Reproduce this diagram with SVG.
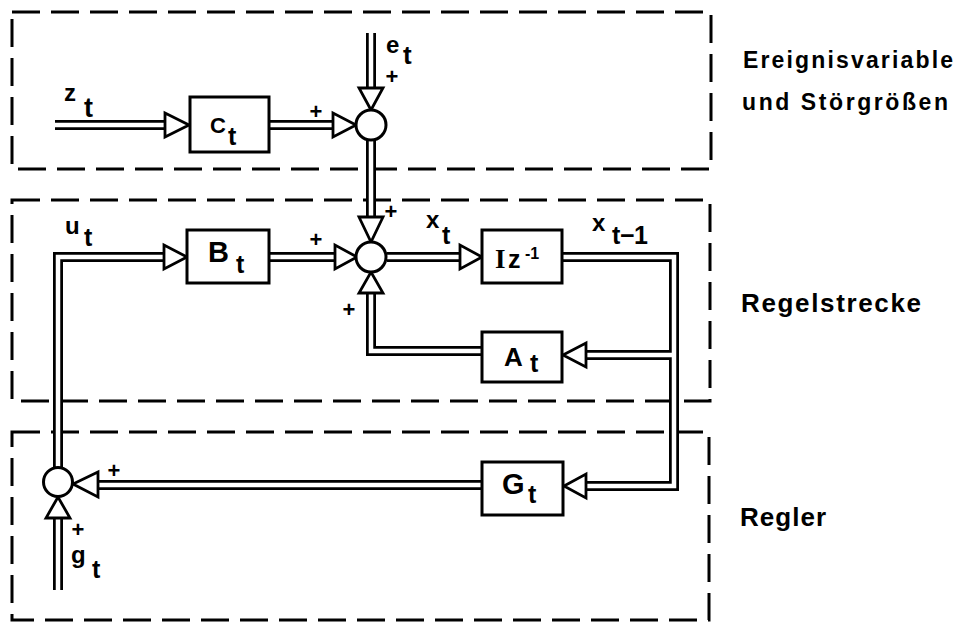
<svg xmlns="http://www.w3.org/2000/svg" width="961" height="622" viewBox="0 0 961 622">
<style>
  .zone { fill: none; stroke: #000; stroke-width: 3; stroke-dasharray: 28 11; }
  .wireB { fill: none; stroke: #000; stroke-width: 10; stroke-linejoin: miter; }
  .wireW { fill: none; stroke: #fff; stroke-width: 4.5; stroke-linejoin: miter; }
  .arr { fill: #fff; stroke: #000; stroke-width: 2.8; stroke-linejoin: miter; }
  .box { fill: #fff; stroke: #000; stroke-width: 3; }
  .sum { fill: #fff; stroke: #000; stroke-width: 3; }
  .t { font-family: "Liberation Sans", Arial, sans-serif; font-weight: bold; fill: #000; }
  .m { font-size: 24px; }
  .s { font-size: 25px; }
  .plus { font-size: 22px; text-anchor: middle; }
</style>
<rect width="961" height="622" fill="#fff"/>

<g id="zones">
  <rect class="zone" x="12" y="12" width="699" height="157"/>
  <rect class="zone" x="12" y="200" width="698" height="201"/>
  <rect class="zone" x="12" y="432" width="697" height="188"/>
</g>

<g id="connectors">
  <g class="wireB">
    <path d="M55,125 H166"/>
    <path d="M269,125 H334"/>
    <path d="M371,33 V89"/>
    <path d="M371,140 V218"/>
    <path d="M269,257 H336"/>
    <path d="M387,257 H461"/>
    <path d="M562,257 H674 V486 H586"/>
    <path d="M674,355 H586"/>
    <path d="M482,351 H371 V292"/>
    <path d="M482,485 H97"/>
    <path d="M58,468 V257 H165"/>
    <path d="M58,590 V517"/>
  </g>
  <g class="wireW">
    <path d="M55,125 H166"/>
    <path d="M269,125 H334"/>
    <path d="M371,33 V89"/>
    <path d="M371,140 V218"/>
    <path d="M269,257 H336"/>
    <path d="M387,257 H461"/>
    <path d="M562,257 H674 V486 H586"/>
    <path d="M674,355 H586"/>
    <path d="M482,351 H371 V292"/>
    <path d="M482,485 H97"/>
    <path d="M58,468 V257 H165"/>
    <path d="M58,590 V517"/>
  </g>
  <g id="arrowheads">
    <polygon class="arr" points="165,113 165,137 189,125"/>
    <polygon class="arr" points="333,113 333,137 356,125"/>
    <polygon class="arr" points="359,88 383,88 371,110"/>
    <polygon class="arr" points="359,217 383,217 371,242"/>
    <polygon class="arr" points="164,245 164,269 187,257"/>
    <polygon class="arr" points="335,245 335,269 357,257"/>
    <polygon class="arr" points="460,245 460,269 482,257"/>
    <polygon class="arr" points="586,343 586,367 563,355"/>
    <polygon class="arr" points="586,474 586,498 564,486"/>
    <polygon class="arr" points="359,293 383,293 371,272"/>
    <polygon class="arr" points="98,472 98,497 73,484"/>
    <polygon class="arr" points="46,518 70,518 58,497"/>
  </g>
</g>

<g id="sum1"><circle class="sum" cx="371" cy="125" r="15"/></g>
<g id="sum2"><circle class="sum" cx="371" cy="257" r="15"/></g>
<g id="sum3"><circle class="sum" cx="58" cy="482" r="14.5"/></g>

<g id="Ct">
  <rect class="box" x="190" y="97" width="79" height="55"/>
  <text class="t" x="210" y="133" font-size="22">C</text>
  <text class="t s" x="228" y="145">t</text>
</g>
<g id="Bt">
  <rect class="box" x="187" y="230" width="82" height="53"/>
  <text class="t" x="208" y="262" font-size="29">B</text>
  <text class="t s" x="236" y="273">t</text>
</g>
<g id="Iz">
  <rect class="box" x="482" y="230" width="80" height="53"/>
  <text x="495" y="268" font-family="Liberation Serif, serif" font-weight="bold" font-size="27">I</text>
  <text class="t" x="508" y="268" font-size="25">z</text>
  <text class="t" x="525" y="259" font-size="16">-1</text>
</g>
<g id="At">
  <rect class="box" x="482" y="332" width="80" height="50"/>
  <text class="t" x="504" y="366" font-size="26">A</text>
  <text class="t s" x="530" y="372">t</text>
</g>
<g id="Gt">
  <rect class="box" x="482" y="462" width="81" height="53"/>
  <text class="t" x="502" y="494" font-size="29">G</text>
  <text class="t s" x="528" y="503">t</text>
</g>

<g id="signals">
  <text class="t m" x="64" y="101">z</text><text class="t" x="84" y="117" font-size="27">t</text>
  <text class="t m" x="386" y="53">e</text><text class="t" x="403" y="64" font-size="26">t</text>
  <text class="t m" x="65" y="234">u</text><text class="t s" x="84" y="246">t</text>
  <text class="t m" x="426" y="228">x</text><text class="t s" x="442" y="244">t</text>
  <text class="t m" x="592" y="231">x</text><text class="t s" x="612" y="244" textLength="36" lengthAdjust="spacing">t−1</text>
  <text class="t m" x="71" y="563">g</text><text class="t s" x="92" y="578">t</text>
</g>

<g id="signs">
  <text class="t plus" x="316" y="119">+</text>
  <text class="t plus" x="392" y="84">+</text>
  <text class="t plus" x="391" y="219">+</text>
  <text class="t plus" x="316" y="247">+</text>
  <text class="t plus" x="349" y="317">+</text>
  <text class="t plus" x="114" y="478">+</text>
  <text class="t plus" x="78" y="537">+</text>
</g>

<g id="zone-labels">
  <text class="t" x="743" y="68" font-size="23" textLength="210" lengthAdjust="spacing">Ereignisvariable</text>
  <text class="t" x="742" y="110" font-size="23" textLength="206" lengthAdjust="spacing">und Störgrößen</text>
  <text class="t" x="741" y="312" font-size="26" textLength="180" lengthAdjust="spacing">Regelstrecke</text>
  <text class="t" x="740" y="526" font-size="26" textLength="86" lengthAdjust="spacing">Regler</text>
</g>
</svg>
